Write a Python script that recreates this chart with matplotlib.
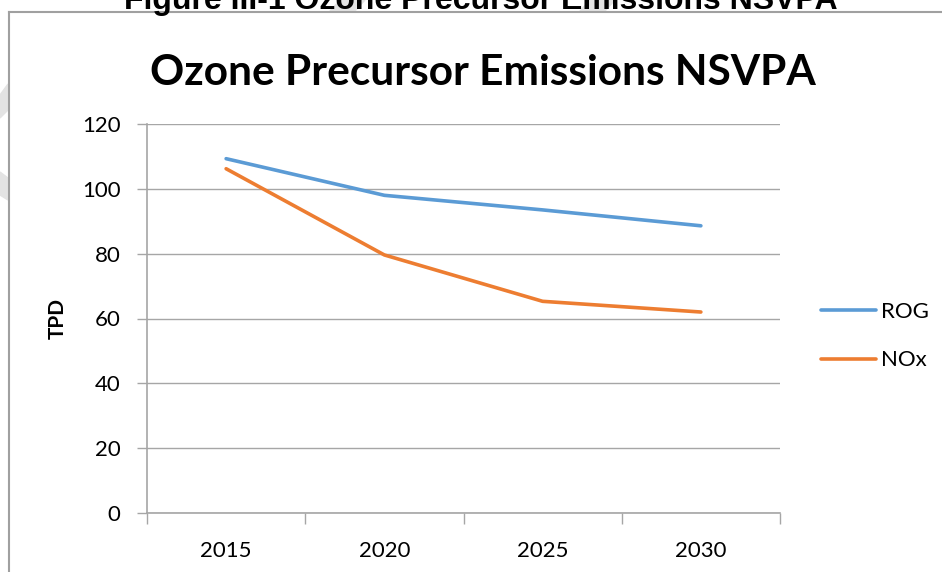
import matplotlib
matplotlib.use('Agg')
import matplotlib.pyplot as plt
from matplotlib.lines import Line2D
from matplotlib.patches import Polygon

years = ['2015', '2020', '2025', '2030']
rog = [109.3, 98.0, 93.5, 88.6]
nox = [106.2, 79.6, 65.3, 62.0]
y_ticks = [0, 20, 40, 60, 80, 100, 120]

BLUE = '#5b9bd5'
ORANGE = '#ed7d31'
GRID = '#a6a6a6'
W, H = 942, 572

plt.rcParams['font.family'] = ['Lato', 'DejaVu Sans']

fig = plt.figure(figsize=(W / 100, H / 100), dpi=100)


def fx(px):
    return px / W


def fy(py):
    return 1 - py / H


# faint watermark pieces at the left edge
for pts in ([(0, 95), (8, 84), (8, 110), (0, 118)],
            [(0, 172), (8, 178), (8, 200), (0, 195)],
            [(340, 0), (365, 0), (355, 11), (330, 11)],
            [(590, 0), (615, 0), (605, 11), (580, 11)]):
    fig.patches.append(Polygon([(fx(x), fy(y)) for x, y in pts], closed=True,
                               transform=fig.transFigure, color='#e3e3e3',
                               zorder=0))

# chart frame (cut at right and bottom)
fig.add_artist(Line2D([fx(8.5), fx(8.5)], [0, fy(11.5)], color='#a0a0a0',
                      lw=1.5, transform=fig.transFigure))
fig.add_artist(Line2D([fx(8.5), 1], [fy(11.5), fy(11.5)], color='#a0a0a0',
                      lw=1.5, transform=fig.transFigure))

# page caption, cut off at the top like in the source page
fig.text(fx(481), fy(9), 'Figure III-1 Ozone Precursor Emissions NSVPA',
         family='Liberation Sans', weight='bold', fontsize=23,
         ha='center', va='baseline')

fig.text(fx(483), fy(85), 'Ozone Precursor Emissions NSVPA',
         weight='bold', fontsize=30.5, ha='center', va='baseline')

ax = fig.add_axes([fx(147), fy(513), fx(780) - fx(147), (513 - 124) / H])
x = list(range(len(years)))
ax.plot(x, rog, color=BLUE, lw=2.6, label='ROG', solid_capstyle='round')
ax.plot(x, nox, color=ORANGE, lw=2.6, label='NOx', solid_capstyle='round')

ax.set_xlim(-0.5, len(years) - 0.5)
ax.set_ylim(0, 120)
ax.set_yticks(y_ticks)
ax.yaxis.grid(True, color=GRID, lw=1)
ax.set_axisbelow(True)

ax.set_xticks([i - 0.5 for i in range(len(years) + 1)])
ax.set_xticklabels([])
ax.set_xticks(x, minor=True)
ax.set_xticklabels(years, minor=True)
ax.tick_params(axis='x', which='major', length=8, color=GRID, width=1)
ax.tick_params(axis='x', which='minor', length=0, pad=20, labelsize=16)
ax.tick_params(axis='y', length=7, color=GRID, width=1, labelsize=16, pad=12)

for s in ['top', 'right']:
    ax.spines[s].set_visible(False)
for s in ['left', 'bottom']:
    ax.spines[s].set_color(GRID)
    ax.spines[s].set_linewidth(1.2)

ax.set_ylabel('TPD', weight='bold', fontsize=15, labelpad=10)

ax.legend(loc='center left', bbox_to_anchor=((812 - 147) / (780 - 147), 0.455),
          frameon=False, fontsize=16, handlelength=2.5, handletextpad=0.2,
          labelspacing=1.3, borderaxespad=0)

fig.savefig('out.png', dpi=100)
